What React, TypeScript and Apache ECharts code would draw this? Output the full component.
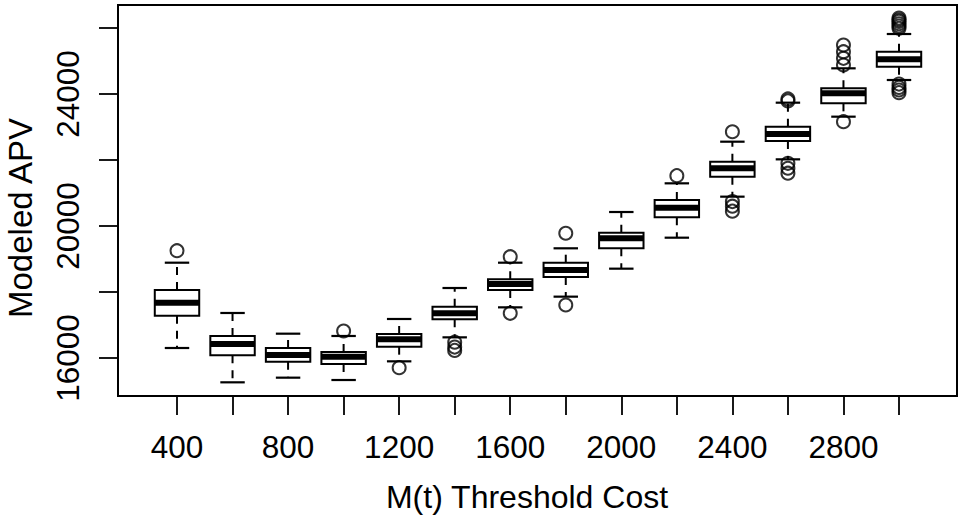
import React, { useEffect, useRef } from 'react';
import * as echarts from 'echarts';

const categories = ['400', '600', '800', '1000', '1200', '1400', '1600', '1800', '2000', '2200', '2400', '2600', '2800', '3000'];
const lowWhisker = [16303, 15263, 15404, 15333, 15899, 16626, 17535, 17859, 18707, 19646, 20889, 22020, 23313, 24424];
const q1 = [17282, 16081, 15889, 15818, 16343, 17172, 18060, 18455, 19324, 20263, 21495, 22576, 23717, 24828];
const medians = [17676, 16424, 16091, 16040, 16566, 17354, 18242, 18667, 19626, 20556, 21748, 22788, 24020, 25051];
const q3 = [18060, 16667, 16303, 16182, 16727, 17556, 18384, 18888, 19798, 20788, 21949, 23010, 24172, 25282];
const highWhisker = [18888, 17364, 16737, 16667, 17182, 18121, 18888, 19324, 20424, 21293, 22555, 23737, 24778, 25818];
const outliers: [string, number][] = [
  ['400', 19252],
  ['1000', 16818],
  ['1200', 15707],
  ['1400', 16480], ['1400', 16330], ['1400', 16230],
  ['1600', 19070], ['1600', 17354],
  ['1800', 19779], ['1800', 17606],
  ['2200', 21525],
  ['2400', 22855], ['2400', 20740], ['2400', 20600], ['2400', 20450],
  ['2600', 23850], ['2600', 23790], ['2600', 21900], ['2600', 21750], ['2600', 21600],
  ['2800', 25485], ['2800', 25282], ['2800', 25080], ['2800', 24879], ['2800', 23161],
  ['3000', 26300], ['3000', 26250], ['3000', 26200], ['3000', 26130], ['3000', 26060], ['3000', 25990],
  ['3000', 24300], ['3000', 24200], ['3000', 24120], ['3000', 24040],
];
const yTicks = { min: 16000, max: 26000, interval: 2000, labelEvery: 4000 };
const xTitle = 'M(t) Threshold Cost';
const yTitle = 'Modeled APV';

const FONT = '"Liberation Sans", Arial, Helvetica, sans-serif';

export default function App() {
  const ref = useRef<HTMLDivElement>(null);
  useEffect(() => {
    if (!ref.current) return;
    const chart = echarts.init(ref.current, undefined, { renderer: 'svg' });
    const boxData = categories.map((_, i) => [i, lowWhisker[i], q1[i], medians[i], q3[i], highWhisker[i]]);
    chart.setOption({
      animation: false,
      backgroundColor: '#fff',
      grid: { left: 177, right: 64, top: 28, bottom: 166, containLabel: false },
      xAxis: {
        type: 'category',
        data: categories,
        boundaryGap: false,
        offset: 38,
        axisLine: { show: false },
        axisTick: { show: true, interval: 0, inside: false, length: 19, lineStyle: { color: '#000', width: 1.8 } },
        axisLabel: { interval: 1, margin: 35, color: '#000', fontSize: 31.5, fontFamily: FONT, lineHeight: 31 },
        splitLine: { show: false },
      },
      yAxis: {
        type: 'value',
        min: yTicks.min,
        max: yTicks.max,
        interval: yTicks.interval,
        offset: 59,
        axisLine: { show: false },
        axisTick: { show: true, inside: false, length: 19, lineStyle: { color: '#000', width: 1.8 } },
        axisLabel: {
          rotate: 90,
          margin: 35,
          color: '#000',
          fontSize: 31.5,
          fontFamily: FONT,
          lineHeight: 31,
          formatter: (v: number) => (v % yTicks.labelEvery === 0 ? String(v) : ''),
        },
        splitLine: { show: false },
      },
      graphic: [
        {
          type: 'rect',
          shape: { x: 118, y: 5, width: 839, height: 391 },
          style: { fill: 'none', stroke: '#000', lineWidth: 2 },
          z: 100,
        },
        {
          type: 'text',
          x: 527,
          y: 497,
          style: { text: xTitle, fontSize: 32, fontFamily: FONT, fill: '#000', align: 'center', verticalAlign: 'middle' },
        },
        {
          type: 'text',
          x: 20,
          y: 218,
          rotation: Math.PI / 2,
          style: { text: yTitle, fontSize: 33, fontFamily: FONT, fill: '#000', align: 'center', verticalAlign: 'middle' },
        },
      ],
      series: [
        {
          type: 'custom',
          clip: false,
          encode: { x: 0, y: [1, 2, 3, 4, 5] },
          data: boxData,
          renderItem: (params: any, api: any) => {
            const x = api.value(0);
            const lo = api.coord([x, api.value(1)]);
            const b1 = api.coord([x, api.value(2)]);
            const md = api.coord([x, api.value(3)]);
            const b3 = api.coord([x, api.value(4)]);
            const hi = api.coord([x, api.value(5)]);
            const band = api.size([1, 0])[0];
            const hw = (band * 0.8) / 2;
            const sw = hw * 0.55;
            const cx = lo[0];
            const stroke = '#000';
            return {
              type: 'group',
              children: [
                { type: 'line', shape: { x1: cx, y1: b1[1], x2: cx, y2: lo[1] }, style: { stroke, lineWidth: 2, lineDash: [8, 7] } },
                { type: 'line', shape: { x1: cx, y1: b3[1], x2: cx, y2: hi[1] }, style: { stroke, lineWidth: 2, lineDash: [8, 7] } },
                { type: 'line', shape: { x1: cx - sw, y1: lo[1], x2: cx + sw, y2: lo[1] }, style: { stroke, lineWidth: 2.2 } },
                { type: 'line', shape: { x1: cx - sw, y1: hi[1], x2: cx + sw, y2: hi[1] }, style: { stroke, lineWidth: 2.2 } },
                { type: 'rect', shape: { x: cx - hw, y: b3[1], width: hw * 2, height: b1[1] - b3[1] }, style: { fill: '#fff', stroke, lineWidth: 2 } },
                { type: 'line', shape: { x1: cx - hw, y1: md[1], x2: cx + hw, y2: md[1] }, style: { stroke, lineWidth: 6 } },
              ],
            };
          },
        },
        {
          type: 'scatter',
          clip: false,
          data: outliers,
          symbol: 'circle',
          symbolSize: 13,
          itemStyle: { color: 'rgba(0,0,0,0)', borderColor: '#000', borderWidth: 2 },
          z: 3,
        },
      ],
    });
    return () => chart.dispose();
  }, []);
  return <div ref={ref} style={{ position: 'absolute', left: 0, top: 0, width: 963, height: 524 }} />;
}
